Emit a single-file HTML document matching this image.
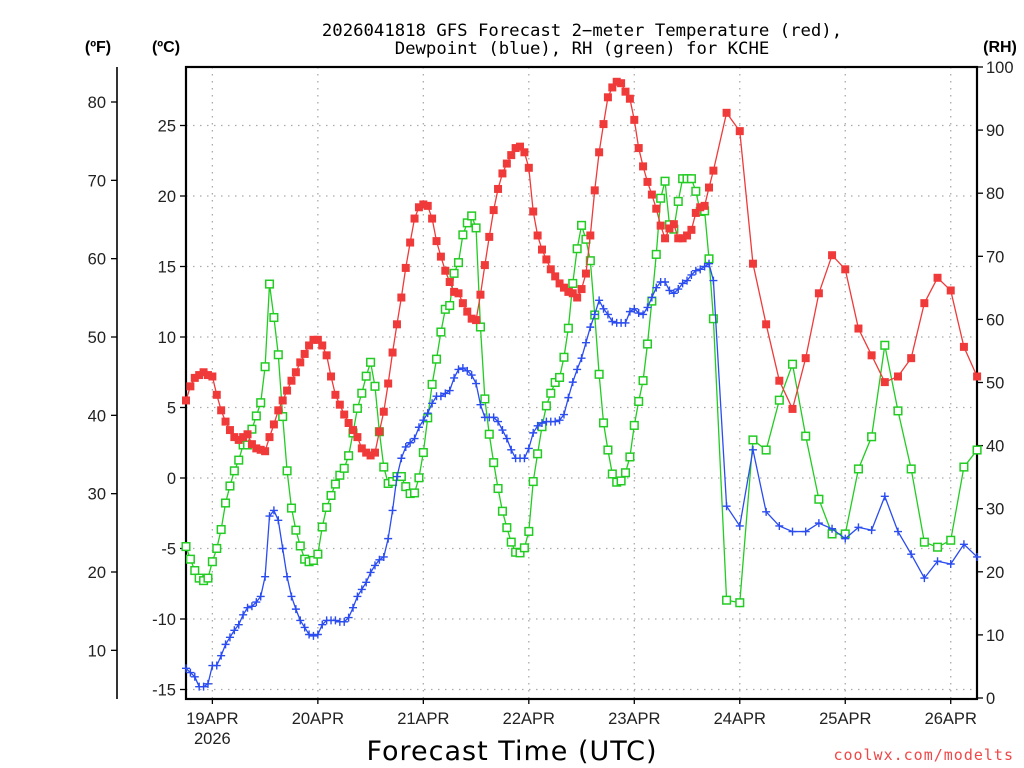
<!DOCTYPE html>
<html><head><meta charset="utf-8"><style>
html,body{margin:0;padding:0;background:#fff;}
svg{display:block;font-family:"Liberation Sans","DejaVu Sans",sans-serif;}
</style></head><body>
<svg id="chart" width="1024" height="768" viewBox="0 0 1024 768">
<g id="grid"></g>
<g id="axes"></g>
<g id="series"></g>
<text x="582" y="36" text-anchor="middle" font-family="'DejaVu Sans Mono','Liberation Mono',monospace" font-size="17.3" fill="#000">2026041818 GFS Forecast 2−meter Temperature (red),</text>
<text x="582" y="54" text-anchor="middle" font-family="'DejaVu Sans Mono','Liberation Mono',monospace" font-size="17.3" fill="#000">Dewpoint (blue), RH (green) for KCHE</text>
<text x="98" y="52" text-anchor="middle" font-size="16" font-weight="bold">(ºF)</text>
<text x="166" y="52" text-anchor="middle" font-size="16" font-weight="bold">(ºC)</text>
<text x="1000" y="52" text-anchor="middle" font-size="16" font-weight="bold">(RH)</text>
<text x="512" y="760" text-anchor="middle" font-family="'DejaVu Sans','Liberation Sans',sans-serif" font-size="27" letter-spacing="1">Forecast Time (UTC)</text>
<text x="1014" y="760" text-anchor="end" font-family="'DejaVu Sans Mono','Liberation Mono',monospace" font-size="15" fill="#f04848" letter-spacing="1">coolwx.com/modelts</text>
</svg>
<script>
// ---- data ----
const dayLabels = ["19APR","20APR","21APR","22APR","23APR","24APR","25APR","26APR"];
const dayHours = [6,30,54,78,102,126,150,174];
const cTicks = [25,20,15,10,5,0,-5,-10,-15];
const fTicks = [80,70,60,50,40,30,20,10];
const rhTicks = [100,90,80,70,60,50,40,30,20,10,0];
const tempHourly = [5.5,6.5,7.1,7.3,7.5,7.3,7.2,5.9,4.8,4.0,3.4,2.9,2.7,2.9,3.1,2.4,2.1,2.0,1.9,2.9,3.8,4.8,5.5,6.2,6.9,7.5,8.2,8.8,9.4,9.8,9.8,9.4,8.7,7.2,5.9,5.2,4.5,3.9,3.4,2.9,2.1,1.8,1.6,1.8,3.3,4.7,6.7,8.9,10.9,12.8,14.9,16.7,18.4,19.2,19.4,19.3,18.4,16.8,15.7,14.7,13.9,13.2,13.1,12.4,11.8,11.3,11.2,13.0,15.1,17.1,19.0,20.5,21.6,22.3,22.9,23.4,23.5,23.1,22.0,18.9,17.2,16.2,15.5,14.8,14.3,13.8,13.5,13.2,13.1,12.8,13.4,14.5,17.2,20.4,23.1,25.1,27.0,27.7,28.1,28.0,27.4,26.9,25.4,23.4,22.1,21.0,20.1,19.1,17.9,17.0,17.7,18.0,17.0,17.0,17.2,17.6,18.8,19.2,19.3,20.6,21.8];
const temp3h = [25.9,24.6,15.2,10.9,6.9,4.9,8.5,13.1,15.8,14.8,10.6,8.7,6.8,7.2,8.5,12.4,14.2,13.3,9.3,7.2];
const dewHourly = [-13.5,-13.8,-14.1,-14.8,-14.8,-14.6,-13.3,-13.3,-12.6,-11.8,-11.3,-10.8,-10.4,-9.7,-9.2,-9.1,-8.8,-8.4,-7.0,-2.7,-2.3,-3.0,-5.0,-7.0,-8.4,-9.3,-10.1,-10.6,-11.1,-11.2,-11.1,-10.4,-10.1,-10.1,-10.1,-10.2,-10.2,-9.9,-9.2,-8.4,-7.9,-7.4,-6.7,-6.2,-5.8,-5.6,-4.3,-2.3,0.1,1.4,2.2,2.5,2.8,3.6,4.1,4.6,5.3,5.8,5.8,6.0,6.2,7.1,7.7,7.8,7.6,7.3,6.7,5.2,4.3,4.3,4.3,4.0,3.4,2.8,2.0,1.4,1.4,1.4,2.1,3.2,3.7,3.9,4.0,4.0,4.0,4.1,4.5,5.7,6.8,7.7,8.5,9.6,10.7,11.6,12.6,12.0,11.6,11.1,11.0,11.0,11.0,11.8,12.0,11.7,11.6,12.1,12.8,13.5,13.9,13.9,13.3,13.1,13.4,13.8,14.0,14.4,14.7,14.8,15.0,15.2,14.0];
const dew3h = [-2.0,-3.4,2.0,-2.4,-3.4,-3.8,-3.8,-3.2,-3.6,-4.3,-3.5,-3.7,-1.3,-3.8,-5.4,-7.1,-5.9,-6.1,-4.7,-5.6];
const rhHourly = [24.0,22.0,20.2,19.0,18.6,19.0,21.6,23.7,26.7,30.9,33.6,36.0,37.7,40.1,40.1,42.6,44.7,46.8,52.5,65.6,60.3,54.4,44.6,36.0,30.1,26.6,24.1,22.0,21.6,21.8,22.8,27.1,30.2,32.1,33.9,35.3,36.4,38.4,42.0,45.9,48.3,51.0,53.2,49.4,42.2,36.6,34.0,34.3,35.1,35.1,33.5,32.4,32.5,34.9,38.9,44.4,49.7,53.7,58.0,61.6,62.2,67.3,69.0,73.4,75.3,76.4,74.5,58.8,47.4,41.8,37.3,33.2,29.6,27.0,24.7,23.1,23.0,23.8,26.4,34.3,38.7,43.0,46.3,48.3,50.0,50.8,54.0,58.6,65.7,71.2,74.9,72.7,69.3,60.7,51.3,43.6,39.3,35.5,34.2,34.4,35.7,38.2,43.2,47.0,50.3,56.1,62.9,70.3,79.2,81.9,75.0,74.3,78.7,82.3,82.3,82.3,80.3,77.1,77.2,69.6,60.1];
const rh3h = [15.5,15.1,40.9,39.3,47.2,52.9,41.5,31.5,26.0,26.0,36.3,41.4,55.9,45.5,36.3,24.7,23.9,25.0,36.6,39.3];

// ---- scales ----
const L=186,R=977,T=67,B=699;
const xH = h => 186 + h*4.395;
const yC = c => 478 - c*14.1;
const yF = f => yC((f-32)/1.8);
const yRH = r => 698 - r*6.31;
const NS="http://www.w3.org/2000/svg";
function mk(tag, attrs, parent){const e=document.createElementNS(NS,tag);for(const k in attrs)e.setAttribute(k,attrs[k]);parent.appendChild(e);return e;}
const grid=document.getElementById('grid'), axes=document.getElementById('axes'), ser=document.getElementById('series');

cTicks.forEach(c=>{const l=mk('line',{x1:L,x2:R,y1:yC(c),y2:yC(c),stroke:'#aaa','stroke-width':1.3,'stroke-dasharray':'1.5 5.5'},grid);

});
dayHours.forEach(h=>{const l=mk('line',{x1:xH(h),x2:xH(h),y1:T,y2:B,stroke:'#aaa','stroke-width':1.3,'stroke-dasharray':'1.5 5.5'},grid);

});

const fr=mk('rect',{x:L,y:T,width:R-L,height:B-T,fill:'none',stroke:'#000','stroke-width':2.2},axes);


const fax=mk('line',{x1:117,x2:117,y1:T,y2:B,stroke:'#000','stroke-width':1.6},axes);



cTicks.forEach(c=>{mk('line',{x1:L-6,x2:L,y1:yC(c),y2:yC(c),stroke:'#000','stroke-width':1.3},axes);
const t=mk('text',{x:L-10,y:yC(c)+6,'text-anchor':'end','font-size':16.5,fill:'#222'},axes);t.textContent=c;

});
fTicks.forEach(f=>{mk('line',{x1:111,x2:117,y1:yF(f),y2:yF(f),stroke:'#000','stroke-width':1.3},axes);
const t=mk('text',{x:106,y:yF(f)+6,'text-anchor':'end','font-size':16.5,fill:'#222'},axes);t.textContent=f;

});
rhTicks.forEach(r=>{mk('line',{x1:R,x2:R+6,y1:yRH(r),y2:yRH(r),stroke:'#000','stroke-width':1.3},axes);
const t=mk('text',{x:R+9,y:yRH(r)+6,'text-anchor':'start','font-size':16.5,fill:'#222'},axes);t.textContent=r;

});
dayHours.forEach((h,i)=>{mk('line',{x1:xH(h),x2:xH(h),y1:B,y2:B+5,stroke:'#000','stroke-width':1.3},axes);
const t=mk('text',{x:xH(h),y:724,'text-anchor':'middle','font-size':16.5,fill:'#222'},axes);t.textContent=dayLabels[i];

});
const yr=mk('text',{x:xH(dayHours[0]),y:744,'text-anchor':'middle','font-size':16.5,fill:'#222'},axes);yr.textContent='2026';



function pts(hourly, three, yf){const p=[];hourly.forEach((v,i)=>p.push([xH(i),yf(v)]));three.forEach((v,i)=>p.push([xH(123+3*i),yf(v)]));return p;}
function draw(name,p,color,marker){
  const g=mk('g',{},ser);
  
  
  mk('polyline',{points:p.map(q=>q.join(',')).join(' '),fill:'none',stroke:color,'stroke-width':1.3},g);
  p.forEach(([x,y])=>{let m;
    if(marker==='fill') m=mk('rect',{x:x-4,y:y-4,width:8,height:8,fill:color},g);
    else if(marker==='open') m=mk('rect',{x:x-3.8,y:y-3.8,width:7.6,height:7.6,fill:'#fff',stroke:color,'stroke-width':1.5},g);
    else m=mk('path',{d:`M${x-4},${y}H${x+4}M${x},${y-4}V${y+4}`,stroke:color,'stroke-width':1.4},g);
    
    
  });
}
draw('rh-series',pts(rhHourly,rh3h,yRH),'#22cc22','open');
draw('dewpoint-series',pts(dewHourly,dew3h,yC),'#2a4cf0','plus');
draw('temperature-series',pts(tempHourly,temp3h,yC),'#f03a3a','fill');
</script>
</body></html>
